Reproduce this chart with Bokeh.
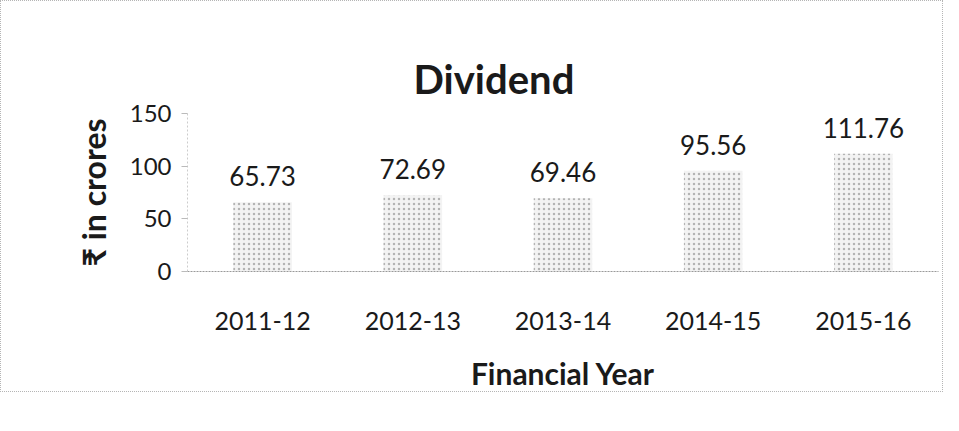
from bokeh.plotting import figure
from bokeh.models import ColumnDataSource, Range1d
from bokeh.core.properties import value
from bokeh.embed import file_html
from bokeh.resources import INLINE

years = ["2011-12", "2012-13", "2013-14", "2014-15", "2015-16"]
dividend = [65.73, 72.69, 69.46, 95.56, 111.76]
labels = ["65.73", "72.69", "69.46", "95.56", "111.76"]
y_ticks = [0, 50, 100, 150]

FONT = "Lato, 'Noto Sans', sans-serif"

src = ColumnDataSource(dict(year=years, val=dividend, lab=labels))

p = figure(x_range=years, y_range=Range1d(0, 150), width=943, height=392,
           output_backend="svg", toolbar_location=None,
           min_border_left=186, min_border_top=112, min_border_bottom=122, min_border_right=6,
           title="Dividend")
p.styles = {"border": "1px dotted #b5b5b5"}
p.outline_line_color = None
p.background_fill_color = "white"

p.title.align = "left"
p.title.offset = 226
p.title.text_font = FONT
p.title.text_font_size = "40px"
p.title.text_font_style = "bold"
p.title.text_color = "#1a1a1a"
p.title.standoff = 22

p.vbar(x="year", top="val", width=0.39, source=src,
       fill_color="#f3f3f3", line_color=None,
       hatch_pattern="dot", hatch_color="#b4b4b4", hatch_scale=5, hatch_weight=1)

p.text(x="year", y="val", text="lab", source=src, text_align="center",
       text_baseline="bottom", y_offset=-16, text_font=value(FONT),
       text_font_size="26px", text_color="#1a1a1a")

p.xgrid.grid_line_color = None
p.ygrid.grid_line_color = None

p.yaxis.ticker = y_ticks
p.yaxis.axis_label = "₹ in crores"
p.yaxis.axis_label_text_font = FONT
p.yaxis.axis_label_text_font_size = "32px"
p.yaxis.axis_label_text_font_style = "bold"
p.yaxis.axis_label_text_color = "#1a1a1a"
p.yaxis.axis_label_standoff = 14
p.yaxis.major_label_text_font = FONT
p.yaxis.major_label_text_font_size = "24px"
p.yaxis.major_label_text_color = "#1a1a1a"
p.yaxis.major_label_standoff = 10
p.yaxis.axis_line_color = "#cccccc"
p.yaxis.axis_line_dash = "2 2"
p.yaxis.major_tick_line_color = "#bbbbbb"
p.yaxis.major_tick_out = 6
p.yaxis.major_tick_in = 0
p.yaxis.minor_tick_line_color = None

p.xaxis.axis_label = "Financial Year"
p.xaxis.axis_label_text_font = FONT
p.xaxis.axis_label_text_font_size = "30px"
p.xaxis.axis_label_text_font_style = "bold"
p.xaxis.axis_label_text_color = "#1a1a1a"
p.xaxis.axis_label_standoff = 22
p.xaxis.major_label_text_font = FONT
p.xaxis.major_label_text_font_size = "25px"
p.xaxis.major_label_text_color = "#1a1a1a"
p.xaxis.major_label_standoff = 34
p.xaxis.axis_line_color = "#999999"
p.xaxis.axis_line_dash = "2 1"
p.xaxis.major_tick_line_color = None

open("out.html", "w").write(file_html(p, INLINE))
